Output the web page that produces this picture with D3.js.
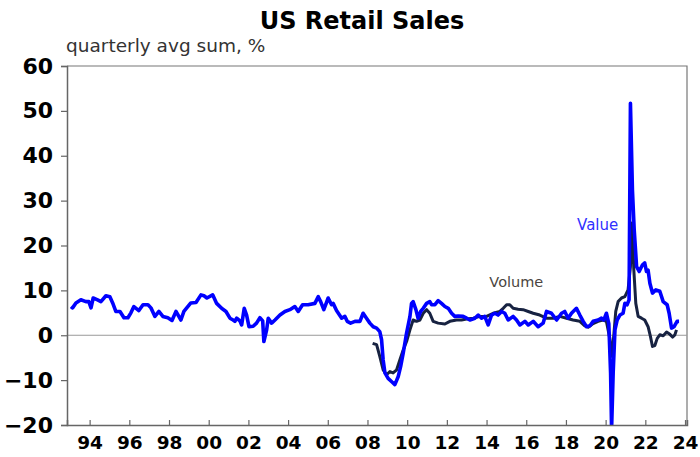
<!DOCTYPE html>
<html>
<head>
<meta charset="utf-8">
<script src="https://cdn.jsdelivr.net/npm/d3@7"></script>
<style>
  body { margin: 0; background: #fff; }
  svg { font-family: "DejaVu Sans", sans-serif; }
</style>
</head>
<body>
<svg id="chart" width="700" height="457"></svg>
<script>
// year (decimal), %
var valueSeries = [
  [1993.06, 6.4], [1993.14, 6.1], [1993.31, 7.2], [1993.56, 7.9], [1993.81, 7.5], [1993.96, 7.5],
  [1994.07, 6.1], [1994.18, 8.3], [1994.40, 7.9], [1994.57, 7.5], [1994.82, 8.8], [1995.02, 8.6],
  [1995.16, 7.2], [1995.32, 5.3], [1995.53, 5.3], [1995.73, 3.9], [1995.93, 3.9], [1996.08, 5.0],
  [1996.23, 6.4], [1996.48, 5.5], [1996.69, 6.8], [1996.94, 6.8], [1997.09, 6.1], [1997.29, 4.2],
  [1997.49, 5.3], [1997.69, 4.2], [1997.94, 3.9], [1998.15, 3.3], [1998.35, 5.3], [1998.60, 3.4],
  [1998.75, 5.3], [1999.10, 7.2], [1999.36, 7.3], [1999.61, 9.0], [1999.76, 8.8], [1999.91, 8.3],
  [2000.20, 9.0], [2000.40, 7.1], [2000.65, 6.0], [2000.87, 5.3], [2001.07, 3.8], [2001.23, 3.4],
  [2001.32, 3.1], [2001.41, 3.8], [2001.57, 3.2], [2001.66, 2.3], [2001.79, 6.0], [2001.91, 4.5],
  [2002.03, 1.9], [2002.24, 2.0], [2002.41, 2.7], [2002.58, 3.9], [2002.72, 3.2], [2002.78, -1.4],
  [2002.92, 1.2], [2003.00, 3.8], [2003.17, 2.7], [2003.34, 3.4], [2003.59, 4.5], [2003.84, 5.3],
  [2004.09, 5.7], [2004.34, 6.4], [2004.51, 5.3], [2004.73, 6.8], [2005.01, 6.8], [2005.35, 7.1],
  [2005.52, 8.6], [2005.64, 7.5], [2005.80, 5.7], [2006.02, 8.3], [2006.19, 6.8], [2006.27, 7.1],
  [2006.44, 5.5], [2006.70, 3.8], [2006.86, 4.2], [2006.98, 3.1], [2007.15, 2.7], [2007.37, 3.1],
  [2007.62, 3.1], [2007.78, 4.9], [2007.95, 3.8], [2008.12, 2.7], [2008.29, 1.9], [2008.46, 1.6],
  [2008.62, 0.8], [2008.71, -1.0], [2008.79, -5.5], [2008.88, -8.4], [2009.04, -9.6], [2009.21, -10.3],
  [2009.38, -11.0], [2009.55, -9.2], [2009.67, -7.0], [2009.80, -4.0], [2009.97, 0.5], [2010.14, 4.2],
  [2010.22, 7.1], [2010.30, 7.5], [2010.44, 5.7], [2010.55, 3.8], [2010.68, 5.3], [2010.81, 6.0],
  [2010.98, 7.1], [2011.14, 7.5], [2011.23, 6.8], [2011.40, 6.8], [2011.56, 7.7], [2011.73, 7.1],
  [2011.90, 6.4], [2012.07, 6.0], [2012.24, 4.9], [2012.40, 4.2], [2012.57, 4.3], [2012.82, 4.2],
  [2013.00, 3.8], [2013.16, 3.4], [2013.41, 3.8], [2013.58, 4.5], [2013.75, 3.8], [2013.91, 4.2],
  [2014.08, 2.3], [2014.25, 4.5], [2014.42, 4.9], [2014.58, 4.5], [2014.76, 5.3], [2014.92, 4.9],
  [2015.09, 3.4], [2015.34, 4.2], [2015.51, 3.4], [2015.68, 2.3], [2015.93, 3.1], [2016.10, 2.3],
  [2016.35, 3.1], [2016.60, 1.9], [2016.85, 2.7], [2017.02, 5.3], [2017.27, 4.9], [2017.53, 3.4],
  [2017.78, 4.9], [2017.94, 5.3], [2018.11, 3.8], [2018.28, 4.9], [2018.53, 6.0], [2018.70, 4.5],
  [2018.87, 3.1], [2019.04, 1.9], [2019.21, 2.1], [2019.37, 3.1], [2019.62, 3.4], [2019.79, 3.8],
  [2019.91, 3.4], [2020.04, 4.9], [2020.16, 2.6], [2020.25, -8.4], [2020.30, -21], [2020.38, -8.4],
  [2020.47, 1.2], [2020.58, 3.4], [2020.72, 4.5], [2020.88, 4.9], [2020.97, 7.1], [2021.08, 6.8],
  [2021.18, 7.9], [2021.25, 51.7], [2021.35, 32.4], [2021.44, 23.5], [2021.56, 15.3], [2021.69, 14.2],
  [2021.86, 15.7], [2021.97, 16.1], [2022.06, 14.2], [2022.14, 14.5], [2022.23, 11.6], [2022.36, 9.4],
  [2022.53, 10.1], [2022.73, 9.8], [2022.90, 7.5], [2023.10, 6.8], [2023.20, 4.9], [2023.32, 1.6],
  [2023.45, 1.9], [2023.60, 3.1], [2023.70, 3.1]
];

var volumeSeries = [
  [2008.26, -1.8], [2008.46, -2.1], [2008.62, -4.7], [2008.79, -7.7], [2008.96, -8.8], [2009.13, -8.1],
  [2009.29, -8.4], [2009.47, -7.7], [2009.63, -5.5], [2009.80, -3.3], [2009.97, -1.4], [2010.14, 1.2],
  [2010.30, 3.4], [2010.47, 3.1], [2010.64, 3.4], [2010.81, 4.9], [2010.98, 5.7], [2011.14, 4.9],
  [2011.31, 3.1], [2011.56, 2.7], [2011.90, 2.5], [2012.15, 3.1], [2012.49, 3.4], [2012.74, 3.4],
  [2012.99, 3.6], [2013.33, 3.8], [2013.66, 4.2], [2014.00, 4.2], [2014.33, 4.9], [2014.67, 5.3],
  [2014.84, 6.0], [2015.01, 6.8], [2015.17, 6.8], [2015.34, 6.0], [2015.59, 5.8], [2015.84, 5.7],
  [2016.10, 5.3], [2016.35, 4.9], [2016.68, 4.5], [2017.02, 3.8], [2017.36, 3.8], [2017.69, 4.2],
  [2018.03, 3.8], [2018.36, 3.4], [2018.70, 3.1], [2018.95, 2.1], [2019.12, 1.8], [2019.37, 2.6],
  [2019.62, 3.1], [2019.87, 3.4], [2020.04, 3.1], [2020.21, -0.7], [2020.32, -4.7], [2020.42, 0.5],
  [2020.51, 5.3], [2020.63, 7.5], [2020.80, 8.3], [2020.97, 8.6], [2021.13, 10.1], [2021.25, 15.3],
  [2021.33, 25.0], [2021.42, 14.6], [2021.52, 7.1], [2021.64, 4.2], [2021.81, 3.8], [2021.97, 3.4],
  [2022.14, 1.9], [2022.26, -0.3], [2022.36, -2.5], [2022.48, -2.3], [2022.60, -0.7], [2022.73, 0.1],
  [2022.90, -0.1], [2023.07, 0.7], [2023.24, 0.2], [2023.37, -0.4], [2023.49, 0.1], [2023.57, 1.2]
];

var yTicks = [-20, -10, 0, 10, 20, 30, 40, 50, 60];
var xTicks = [1994, 1996, 1998, 2000, 2002, 2004, 2006, 2008, 2010, 2012, 2014, 2016, 2018, 2020, 2022, 2024];

var svg = d3.select("#chart"),
    margin = {top: 66, right: 13, bottom: 32, left: 67},
    width = +svg.attr("width") - margin.left - margin.right,
    height = +svg.attr("height") - margin.top - margin.bottom;

var x = d3.scaleLinear().domain([1992.86, 2024.1]).range([0, width]),
    y = d3.scaleLinear().domain([-20, 60]).range([height, 0]);

svg.append("text")
    .attr("x", 362).attr("y", 29)
    .attr("text-anchor", "middle")
    .attr("font-size", 24).attr("font-weight", "bold")
    .text("US Retail Sales");

svg.append("text")
    .attr("x", 66).attr("y", 52)
    .attr("font-size", 18.5).attr("fill", "#333")
    .text("quarterly avg sum, %");

var g = svg.append("g")
    .attr("transform", "translate(" + margin.left + "," + margin.top + ")");

g.append("clipPath").attr("id", "clip")
  .append("rect").attr("width", width).attr("height", height);

// frame top and right
g.append("path")
    .attr("d", "M0,0H" + width + "V" + height)
    .attr("fill", "none").attr("stroke", "#777").attr("stroke-width", 1.2);

// zero line
g.append("line")
    .attr("x1", 0).attr("x2", width)
    .attr("y1", y(0)).attr("y2", y(0))
    .attr("stroke", "#999").attr("stroke-width", 1);

var line = d3.line()
    .x(function(d) { return x(d[0]); })
    .y(function(d) { return y(d[1]); });

var lines = g.append("g").attr("clip-path", "url(#clip)");

lines.append("path")
    .datum(volumeSeries)
    .attr("fill", "none")
    .attr("stroke", "#172241")
    .attr("stroke-width", 3)
    .attr("stroke-linejoin", "round")
    .attr("d", line);

lines.append("path")
    .datum(valueSeries)
    .attr("fill", "none")
    .attr("stroke", "#0000ff")
    .attr("stroke-width", 3.6)
    .attr("stroke-linejoin", "round")
    .attr("d", line);

var yAxis = g.append("g")
    .attr("class", "axis axis--y")
    .call(d3.axisLeft(y).tickValues(yTicks).tickSize(6).tickPadding(8));

var xAxis = g.append("g")
    .attr("class", "axis axis--x")
    .attr("transform", "translate(0," + height + ")")
    .call(d3.axisBottom(x).tickValues(xTicks).tickSize(-5).tickPadding(11)
      .tickFormat(function(d) { return String(d).slice(2); }));

svg.selectAll(".axis path").attr("stroke", "#666").attr("stroke-width", 1.5);
svg.selectAll(".axis line").attr("stroke", "#666").attr("stroke-width", 1.2);
svg.selectAll(".axis text")
    .attr("fill", "#000")
    .attr("font-family", "'DejaVu Sans', sans-serif")
    .attr("font-weight", "bold");
yAxis.selectAll("text").attr("font-size", 22);
xAxis.selectAll("text").attr("font-size", 18.5);

g.append("text")
    .attr("x", x(2019.6)).attr("y", y(23.5))
    .attr("text-anchor", "middle")
    .attr("font-size", 15).attr("fill", "#3030ff")
    .text("Value");

g.append("text")
    .attr("x", x(2015.5)).attr("y", y(10.8))
    .attr("text-anchor", "middle")
    .attr("font-size", 14.5).attr("fill", "#4a4540")
    .text("Volume");
</script>
</body>
</html>
